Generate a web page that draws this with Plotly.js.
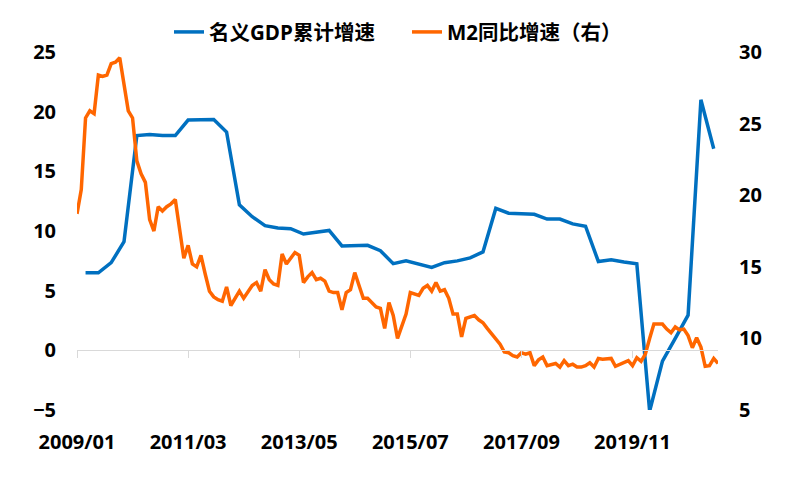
<!DOCTYPE html>
<html>
<head>
<meta charset="utf-8">
<script src="https://cdn.plot.ly/plotly-3.0.1.min.js"></script>
<style>
  html, body { margin: 0; padding: 0; background: #fff; }
  #chart { width: 796px; height: 479px; }
</style>
</head>
<body>
<div id="chart"></div>
<script>
// months counted from 2009/01 (index 0); M2 is monthly to 2021/07, GDP quarterly (Mar, Jun, Sep, Dec)
var tickLabels = ["2009/01", "2011/03", "2013/05", "2015/07", "2017/09", "2019/11"];
var tickMonths = [0, 26, 52, 78, 104, 130];

// 名义GDP累计增速, 2009Q1 .. 2021Q2
var gdpGrowth = [
  6.5, 6.5, 7.35, 9.1,
  18.0, 18.1, 18.0, 18.0,
  19.3, 19.35, 19.35, 18.3,
  12.2, 11.2, 10.45, 10.25,
  10.2, 9.75, 9.9, 10.05,
  8.75, 8.8, 8.8, 8.35,
  7.27, 7.5, 7.2, 6.95,
  7.35, 7.5, 7.75, 8.25,
  11.9, 11.5, 11.45, 11.4,
  11.0, 11.0, 10.6, 10.4,
  7.45, 7.6, 7.4, 7.25,
  -5.1, -0.9, 1.0, 2.95,
  21.0, 16.9
];

// M2同比增速, 2009/01 .. 2021/07
var m2Growth = [
  18.7, 20.4, 25.4, 25.9, 25.7, 28.4, 28.3, 28.4, 29.2, 29.3, 29.6, 27.7,
  25.9, 25.4, 22.4, 21.5, 20.9, 18.3, 17.5, 19.2, 18.9, 19.2, 19.4, 19.7,
  17.5, 15.6, 16.5, 15.2, 15.0, 15.8, 14.5, 13.3, 12.9, 12.7, 12.6, 13.6,
  12.3, 12.8, 13.3, 12.8, 13.2, 13.7, 13.9, 13.3, 14.8, 14.1, 13.8, 13.7,
  15.9, 15.2, 15.6, 16.0, 15.8, 13.9, 14.3, 14.6, 14.1, 14.2, 14.0, 13.3,
  13.2, 13.2, 12.0, 13.2, 13.4, 14.6, 13.7, 12.8, 12.8, 12.5, 12.2, 12.1,
  10.7, 12.5, 11.6, 10.0, 10.8, 11.7, 13.2, 13.1, 13.0, 13.5, 13.7, 13.3,
  13.9, 13.3, 13.4, 12.8, 11.7, 11.7, 10.1, 11.4, 11.5, 11.6, 11.3, 11.1,
  10.7, 10.3, 10.0, 9.6, 9.05, 9.0, 8.8, 8.7, 9.0, 8.9, 9.0, 8.1,
  8.5, 8.7, 8.1, 8.2, 8.25, 8.0, 8.45, 8.1, 8.2, 8.0, 8.0, 8.1,
  8.3, 8.0, 8.6, 8.55, 8.6, 8.6, 8.05, 8.2, 8.3, 8.45, 8.1, 8.65,
  8.4, 8.9, 10.0, 11.0, 11.0, 11.0, 10.65, 10.4, 10.8, 10.6, 10.65, 10.2,
  9.35, 10.05, 9.4, 8.05, 8.1, 8.6, 8.25
];

var gdpMonths = gdpGrowth.map(function(v, i) { return 2 + 3 * i; });
var m2Months = m2Growth.map(function(v, i) { return i; });

var fontFamily = "'Open Sans', 'Noto Sans CJK SC', sans-serif";

var traces = [
  {
    x: gdpMonths,
    y: gdpGrowth,
    name: "名义GDP累计增速",
    type: "scatter",
    mode: "lines",
    line: { color: "#0070C0", width: 3.5 },
    xaxis: "x",
    yaxis: "y"
  },
  {
    x: m2Months,
    y: m2Growth,
    name: "M2同比增速（右）",
    type: "scatter",
    mode: "lines",
    line: { color: "#FF6600", width: 3.5 },
    xaxis: "x",
    yaxis: "y2"
  },
  // empty trace so the bottom label axis gets drawn
  {
    x: [],
    y: [],
    type: "scatter",
    mode: "none",
    showlegend: false,
    hoverinfo: "skip",
    xaxis: "x2",
    yaxis: "y"
  }
];

var tickFont = { family: fontFamily, size: 20, color: "#000", weight: "bold" };

var layout = {
  width: 796,
  height: 479,
  margin: { l: 77, r: 78, t: 47, b: 69 },
  paper_bgcolor: "#fff",
  plot_bgcolor: "#fff",
  showlegend: true,
  legend: {
    orientation: "h",
    xref: "container",
    x: 169 / 796,
    xanchor: "left",
    yref: "container",
    y: 0.933,
    yanchor: "middle",
    entrywidthmode: "pixels",
    entrywidth: 193,
    font: { family: fontFamily, size: 20.5, color: "#000", weight: "bold" }
  },
  // axis line sits at y = 0, ticks only
  xaxis: {
    range: [0, 150],
    anchor: "free",
    position: 5 / 30,
    tickmode: "array",
    tickvals: tickMonths,
    showticklabels: false,
    ticks: "outside",
    ticklen: 7,
    tickcolor: "#d9d9d9",
    showline: true,
    linecolor: "#d9d9d9",
    linewidth: 1,
    showgrid: false,
    zeroline: false
  },
  // labels at the bottom
  xaxis2: {
    range: [0, 150],
    overlaying: "x",
    anchor: "y",
    side: "bottom",
    tickmode: "array",
    tickvals: tickMonths,
    ticktext: tickLabels,
    ticks: "",
    showline: false,
    showgrid: false,
    zeroline: false,
    tickfont: tickFont,
    ticklabelstandoff: 18
  },
  yaxis: {
    range: [-5, 25],
    dtick: 5,
    showgrid: false,
    zeroline: false,
    showline: false,
    ticks: "",
    tickfont: tickFont,
    ticklabelstandoff: 20
  },
  yaxis2: {
    range: [5, 30],
    dtick: 5,
    overlaying: "y",
    side: "right",
    showgrid: false,
    zeroline: false,
    showline: false,
    ticks: "",
    tickfont: tickFont,
    ticklabelstandoff: 20
  }
};

Plotly.newPlot("chart", traces, layout, { displayModeBar: false, staticPlot: true });
</script>
</body>
</html>
